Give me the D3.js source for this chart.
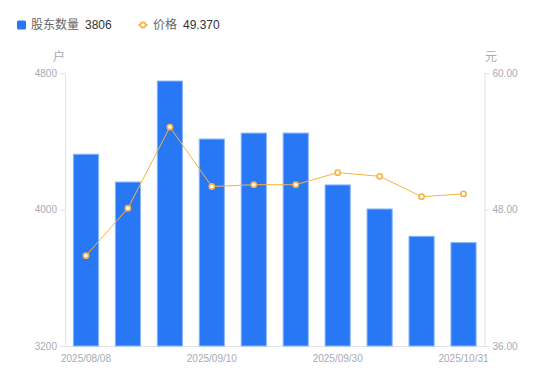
<!DOCTYPE html>
<html>
<head>
<meta charset="utf-8">
<script src="https://cdn.jsdelivr.net/npm/d3@7/dist/d3.min.js"></script>
<style>
  body { margin: 0; background: #fff; }
  svg { display: block; font-family: "Liberation Sans", Arial, "Noto Sans CJK SC", sans-serif; }
</style>
</head>
<body>
<div id="chart"></div>
<script>
// dates of each report, only some are labelled on the axis
var dates = ['2025/08/08', '2025/08/20', '2025/08/29', '2025/09/10', '2025/09/19',
             '2025/09/26', '2025/09/30', '2025/10/10', '2025/10/20', '2025/10/31'];
var holders = [4324, 4161, 4753, 4413, 4448, 4448, 4144, 4003, 3843, 3806];
var prices  = [43.94, 48.11, 55.25, 50.02, 50.18, 50.18, 51.24, 50.92, 49.13, 49.37];

var holderTicks = [3200, 4000, 4800];
var priceTicks  = [36, 48, 60];
var dateLabels  = ['2025/08/08', '2025/09/10', '2025/09/30', '2025/10/31'];

var width = 550, height = 381;
// note: "top" is taken by window.top, so use plot* names
var plotLeft = 65, plotRight = 484.5, plotTop = 73, plotBottom = 346;

var blue = '#2878f5', orange = '#f8b340', axisGray = '#e3e3e6', textGray = '#a7aab4';

var svg = d3.select('#chart').append('svg')
    .attr('width', width)
    .attr('height', height);

var xScale = d3.scaleBand()
    .domain(dates)
    .range([plotLeft, plotRight])
    .paddingInner(0.4)
    .paddingOuter(0.2);

var yLeft = d3.scaleLinear()
    .domain([3200, 4800])
    .range([plotBottom, plotTop]);

var yRight = d3.scaleLinear()
    .domain([36, 60])
    .range([plotBottom, plotTop]);

// axes
var gl = svg.append('g')
    .attr('transform', 'translate(' + plotLeft + ',0)')
    .call(d3.axisLeft(yLeft).tickValues(holderTicks).tickFormat(d3.format('d'))
        .tickSize(5).tickPadding(3).tickSizeOuter(0));

var gr = svg.append('g')
    .attr('transform', 'translate(' + plotRight + ',0)')
    .call(d3.axisRight(yRight).tickValues(priceTicks).tickFormat(d3.format('.2f'))
        .tickSize(5).tickPadding(3).tickSizeOuter(0));

var gb = svg.append('g')
    .attr('transform', 'translate(0,' + plotBottom + ')')
    .call(d3.axisBottom(xScale).tickValues(dateLabels).tickSize(0).tickPadding(9).tickSizeOuter(0));

[gl, gr, gb].forEach(function(g) {
    g.select('.domain').attr('stroke', axisGray);
    g.selectAll('.tick line').attr('stroke', axisGray);
    g.selectAll('.tick text')
        .attr('fill', textGray)
        .style('font-size', '10px')
        .style('font-family', '"Liberation Sans", Arial, sans-serif');
});

// unit labels
svg.append('text')
    .attr('x', 59).attr('y', 61)
    .attr('text-anchor', 'middle')
    .attr('fill', textGray)
    .style('font-size', '12px')
    .text('户');

svg.append('text')
    .attr('x', 485).attr('y', 61)
    .attr('fill', textGray)
    .style('font-size', '12px')
    .text('元');

// bars
svg.append('g').selectAll('rect').data(holders)
    .enter().append('rect')
        .attr('x', function(d, i) { return xScale(dates[i]); })
        .attr('y', function(d) { return yLeft(d); })
        .attr('width', xScale.bandwidth())
        .attr('height', function(d) { return plotBottom - yLeft(d); })
        .style('fill', blue)
        .style('stroke', '#8ab6fb')
        .style('stroke-width', 1);

// price line
var line = d3.line()
    .x(function(d, i) { return xScale(dates[i]) + xScale.bandwidth() / 2; })
    .y(function(d) { return yRight(d); });

svg.append('path')
    .datum(prices)
    .attr('d', line)
    .attr('fill', 'none')
    .attr('stroke', orange)
    .attr('stroke-width', 1);

svg.append('g').selectAll('circle').data(prices)
    .enter().append('circle')
        .attr('cx', function(d, i) { return xScale(dates[i]) + xScale.bandwidth() / 2; })
        .attr('cy', function(d) { return yRight(d); })
        .attr('r', 2.6)
        .attr('fill', '#fff')
        .attr('stroke', orange)
        .attr('stroke-width', 1.6);

// legend
var legend = svg.append('g').style('font-size', '12px');

legend.append('rect')
    .attr('x', 17).attr('y', 20.5)
    .attr('width', 9).attr('height', 9)
    .attr('rx', 1.5)
    .attr('fill', blue);
legend.append('text').attr('x', 31).attr('y', 29).attr('fill', '#666').text('股东数量');
legend.append('text').attr('x', 85).attr('y', 29).attr('fill', '#333').text(holders[holders.length - 1]);

legend.append('line')
    .attr('x1', 138).attr('x2', 148)
    .attr('y1', 25).attr('y2', 25)
    .attr('stroke', orange).attr('stroke-width', 1.5);
legend.append('circle')
    .attr('cx', 143).attr('cy', 25).attr('r', 2.6)
    .attr('fill', '#fff').attr('stroke', orange).attr('stroke-width', 1.6);
legend.append('text').attr('x', 153).attr('y', 29).attr('fill', '#666').text('价格');
legend.append('text').attr('x', 183).attr('y', 29).attr('fill', '#333').text(d3.format('.3f')(prices[prices.length - 1]));
</script>
</body>
</html>
